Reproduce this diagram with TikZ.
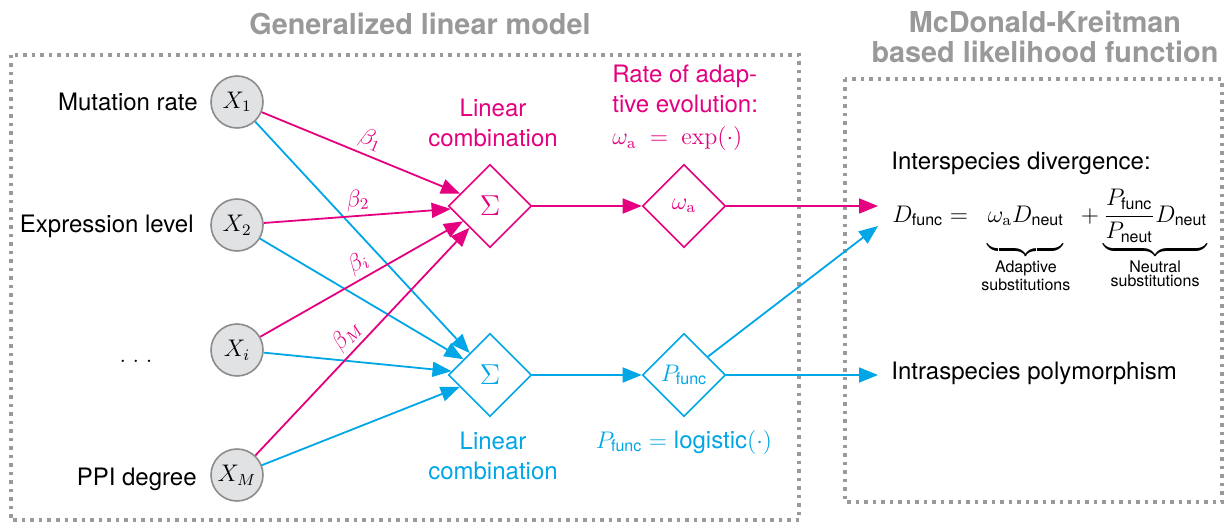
\documentclass[tikz,border=0pt]{standalone}
\usepackage{amsmath}
\usepackage{fontspec}
\setsansfont{TeX Gyre Heros}
\usetikzlibrary{shapes.geometric,arrows.meta}
\definecolor{mag}{HTML}{E4007F}
\definecolor{cya}{HTML}{00A6E6}
\definecolor{boxgray}{HTML}{9A9A9A}
\definecolor{headgray}{HTML}{999999}
\definecolor{circgray}{HTML}{8C8C8C}
\definecolor{circfill}{HTML}{E1E2E4}
\newcommand\sbt[1]{\textsf{#1}}
\begin{document}
\begin{tikzpicture}[x=0.5pt,y=-0.5pt,
  font=\sffamily\fontsize{12}{15}\selectfont,
  var/.style={circle, draw=circgray, fill=circfill, line width=0.8pt, minimum size=26pt, inner sep=0pt},
  dia/.style={diamond, draw, line width=0.8pt, minimum width=41.5pt, minimum height=41.5pt, inner sep=0pt, aspect=1},
  conn/.style={line width=0.9pt, -{Triangle[length=9.5pt,width=7.5pt]}},
  dotbox/.style={draw=boxgray, line width=1.75pt, dash pattern=on 1.75pt off 2.5pt},
  heading/.style={text=headgray, font=\sffamily\bfseries\fontsize{14.4}{15}\selectfont, align=center, inner sep=0pt},
  txt/.style={inner sep=0pt},
  betalbl/.style={sloped, above, inner sep=2pt, text=mag, font=\fontsize{12}{15}\selectfont}
]
\useasboundingbox (0,0) rectangle (1225,524);

% dotted frames
\draw[dotbox] (11,55) rectangle (799,520);
\draw[dotbox] (845,79) rectangle (1222,502);

% headings
\node[heading] (h1) at (420,24) {Generalized linear model};
\node[heading] (h2) at (1045,37) {McDonald-Kreitman\\based likelihood function};

% input variables
\node[var] (x1) at (237,102) {$X_1$};
\node[var] (x2) at (237,225) {$X_2$};
\node[var] (xi) at (237,350) {$X_i$};
\node[var] (xm) at (237,475) {$X_M$};

\node[txt, anchor=east] (l1) at (198,102) {Mutation rate};
\node[txt, anchor=east] (l2) at (194,226) {Expression level};
\node[txt] (l3) at (136,361) {$.\;.\;.$};
\node[txt, anchor=east] (l4) at (197,479) {PPI degree};

% diamonds
\node[dia, draw=mag, text=mag, font=\fontsize{15}{15}\selectfont] (s1) at (490,206) {$\Sigma$};
\node[dia, draw=cya, text=cya, font=\fontsize{15}{15}\selectfont] (s2) at (490,375) {$\Sigma$};
\node[dia, draw=mag, text=mag] (wa) at (684,206) {$\omega_{\mathrm{a}}$};
\node[dia, draw=cya, text=cya] (pf) at (684,375) {$P_{\sbt{func}}$};

% free ends on the right
\coordinate (c1) at (878,206);
\coordinate (c2) at (878,226);
\coordinate (c3) at (878,375);

% blue connectors
\draw[conn, cya] (x1) -- (s2);
\draw[conn, cya] (x2) -- (s2);
\draw[conn, cya] (xi) -- (s2);
\draw[conn, cya] (xm) -- (s2);

% magenta connectors
\draw[conn, mag] (x1) -- node[betalbl, pos=0.52] {$\beta_1$} (s1);
\draw[conn, mag] (x2) -- node[betalbl, pos=0.51] {$\beta_2$} (s1);
\draw[conn, mag] (xi) -- node[betalbl, pos=0.52] {$\beta_i$} (s1);
\draw[conn, mag] (xm) -- node[betalbl, pos=0.48] {$\beta_M$} (s1);

\draw[conn, mag] (s1) -- (wa);
\draw[conn, cya] (s2) -- (pf);
\draw[conn, mag] (wa) -- (c1);
\draw[conn, cya] (pf) -- (c2);
\draw[conn, cya] (pf) -- (c3);

% labels of the GLM part
\node[txt, text=mag, align=center] (lc1) at (493,123) {Linear\\combination};
\node[txt, text=cya, align=center] (lc2) at (493,456) {Linear\\combination};
\node[txt, text=mag, align=left, anchor=west] (rate) at (612,108) {Rate of adap-\\tive evolution:\\[1pt]$\omega_{\mathrm{a}}\;=\;\exp(\cdot)$};
\node[txt, text=cya] (lg) at (684,442) {$P_{\sbt{func}} = \textsf{logistic}(\cdot)$};

% right part
\node[txt, anchor=west] (inter) at (891,163) {Interspecies divergence:};
\node[txt, anchor=base west] (form) at (892,222) {$D_{\sbt{func}} =\;\underbrace{\vphantom{\dfrac{P_{\sbt{func}}}{P_{\sbt{neut}}}}\omega_{\mathrm{a}}D_{\sbt{neut}}}_{\substack{\text{Adaptive}\\\text{substitutions}}}\;+\underbrace{\dfrac{P_{\sbt{func}}}{P_{\sbt{neut}}}D_{\sbt{neut}}}_{\substack{\text{Neutral}\\\text{substitutions}}}$};
\node[txt, anchor=west] (intra) at (891,373) {Intraspecies polymorphism};
\end{tikzpicture}
\end{document}
